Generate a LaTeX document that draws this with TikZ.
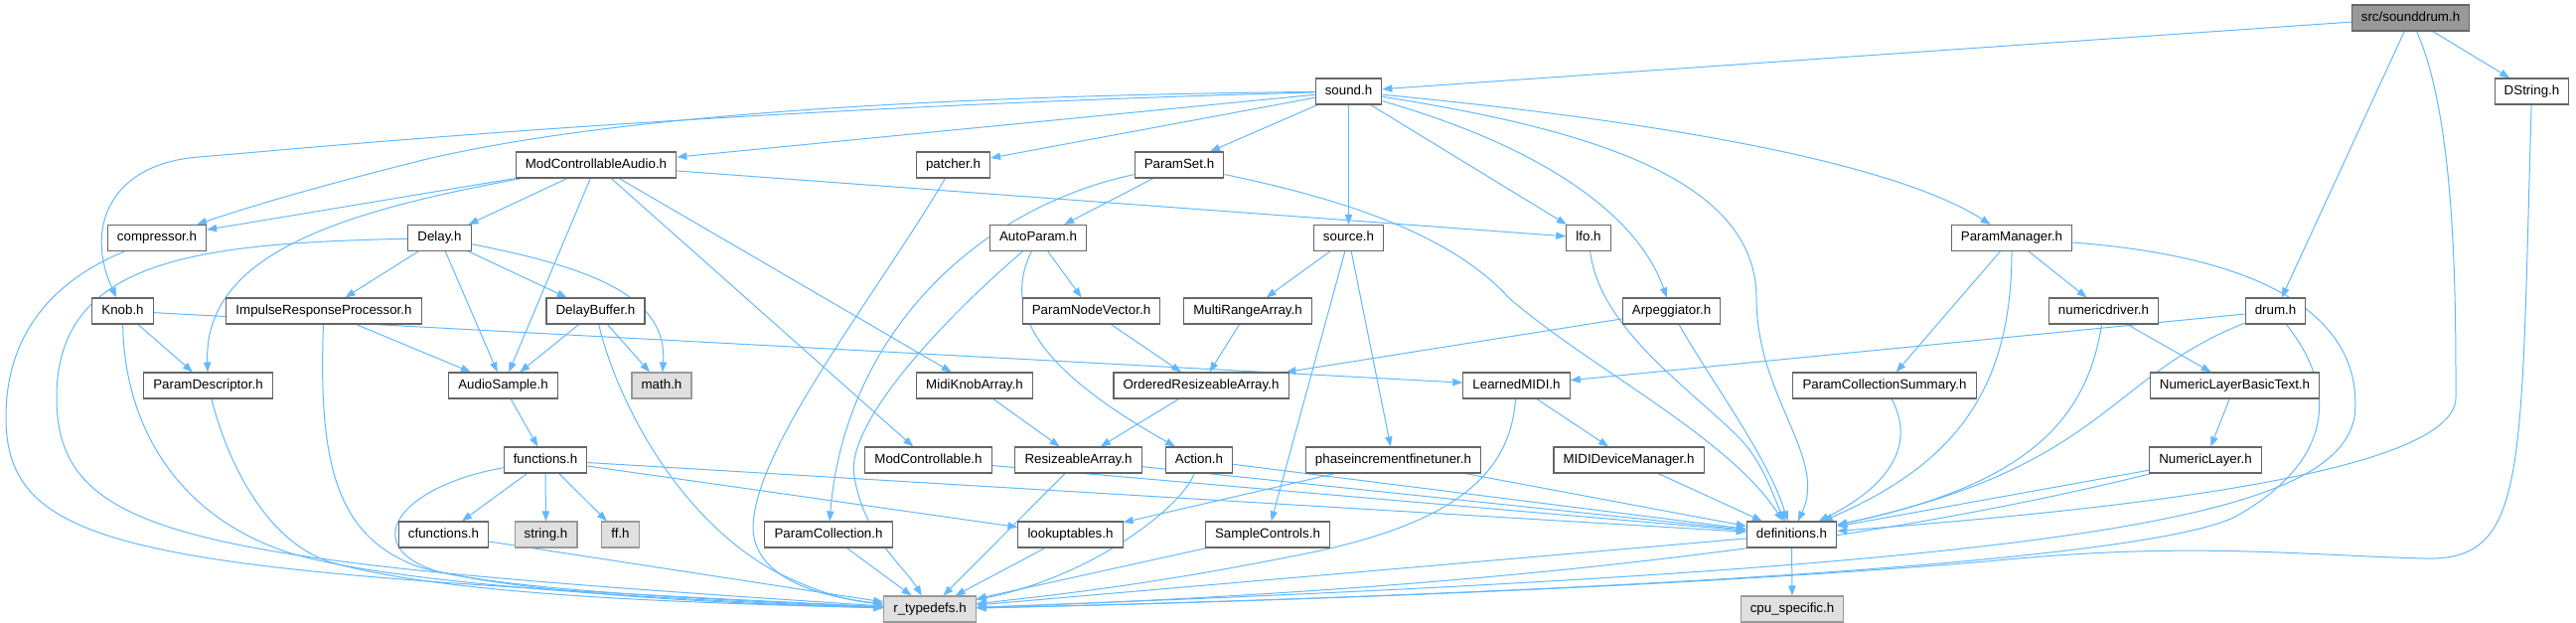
\documentclass[tikz,border=0pt]{standalone}
\usepackage{fontspec}
\setmainfont{Liberation Sans}
\usepackage{tikz}
\usetikzlibrary{arrows.meta, positioning, calc, backgrounds}
\definecolor{edgeblue}{HTML}{63B8FF}
\definecolor{boxline}{HTML}{666666}
\definecolor{extfill}{HTML}{E0E0E0}
\definecolor{extline}{HTML}{999999}
\definecolor{rootfill}{HTML}{999999}

\begin{document}
\begin{tikzpicture}[x=0.75pt,y=-0.75pt,
	box/.style={draw=boxline,fill=white,line width=0.8pt,rectangle,inner xsep=7.2pt,inner ysep=0pt,minimum height=19.5pt,text height=7.3pt,text depth=2.1pt,font=\fontsize{10}{12}\selectfont},
	extbox/.style={box,draw=extline,fill=extfill},
	rootbox/.style={box,fill=rootfill},
	dep/.style={draw=edgeblue,line width=0.75pt,-{Triangle[length=7.5pt,width=5.5pt]}}]
			\useasboundingbox (0,0) rectangle (2593,626);
			\node[rootbox] (sounddrum) at (2426.5,18) {src/sounddrum.h};
			\node[box] (sound) at (1357.5,92) {sound.h};
			\node[box] (DString) at (2548.5,92) {DString.h};
			\node[box] (ModControllableAudio) at (600,166) {ModControllableAudio.h};
			\node[box] (patcher) at (959.5,166) {patcher.h};
			\node[box] (ParamSet) at (1187,166) {ParamSet.h};
			\node[box] (compressor) at (158,239.5) {compressor.h};
			\node[box] (Delay) at (442.5,239.5) {Delay.h};
			\node[box] (AutoParam) at (1045,239.5) {AutoParam.h};
			\node[box] (source) at (1357.5,239.5) {source.h};
			\node[box] (lfo) at (1599,239.5) {lfo.h};
			\node[box] (ParamManager) at (2025,239.5) {ParamManager.h};
			\node[box] (Knob) at (123.5,313) {Knob.h};
			\node[box] (ImpulseResponseProcessor) at (326,313) {ImpulseResponseProcessor.h};
			\node[box] (DelayBuffer) at (599.5,313) {DelayBuffer.h};
			\node[box] (ParamNodeVector) at (1098.5,313) {ParamNodeVector.h};
			\node[box] (MultiRangeArray) at (1256,313) {MultiRangeArray.h};
			\node[box] (Arpeggiator) at (1682.5,313) {Arpeggiator.h};
			\node[box] (numericdriver) at (2117.5,313) {numericdriver.h};
			\node[box] (drum) at (2290.5,313) {drum.h};
			\node[box] (ParamDescriptor) at (209.5,388) {ParamDescriptor.h};
			\node[box] (AudioSample) at (506.5,388) {AudioSample.h};
			\node[extbox] (math) at (666,388) {math.h};
			\node[box] (MidiKnobArray) at (981,388) {MidiKnobArray.h};
			\node[box] (OrderedResizeableArray) at (1209,388) {OrderedResizeableArray.h};
			\node[box] (LearnedMIDI) at (1526.5,388) {LearnedMIDI.h};
			\node[box] (ParamCollectionSummary) at (1897,388) {ParamCollectionSummary.h};
			\node[box] (NumericLayerBasicText) at (2249.5,388) {NumericLayerBasicText.h};
			\node[box] (functions) at (549,463) {functions.h};
			\node[box] (ModControllable) at (934.5,463) {ModControllable.h};
			\node[box] (ResizeableArray) at (1085.5,463) {ResizeableArray.h};
			\node[box] (Action) at (1207,463) {Action.h};
			\node[box] (phaseincrementfinetuner) at (1402.5,463) {phaseincrementfinetuner.h};
			\node[box] (MIDIDeviceManager) at (1639.5,463) {MIDIDeviceManager.h};
			\node[box] (NumericLayer) at (2220,463) {NumericLayer.h};
			\node[box] (cfunctions) at (446.5,538) {cfunctions.h};
			\node[extbox] (string) at (549.5,538) {string.h};
			\node[extbox] (ff) at (624.5,538) {ff.h};
			\node[box] (ParamCollection) at (834,538) {ParamCollection.h};
			\node[box] (lookuptables) at (1077.5,538) {lookuptables.h};
			\node[box] (SampleControls) at (1276,538) {SampleControls.h};
			\node[box] (definitions) at (1803.5,538) {definitions.h};
			\node[extbox] (r_typedefs) at (936,613) {r\_typedefs.h};
			\node[extbox] (cpu_specific) at (1804,613) {cpu\_specific.h};
			\begin{scope}[on background layer]
			% includes of src/sounddrum.h
			\draw[dep] (sounddrum) -- (sound);
			\draw[dep] (sounddrum) -- (drum);
			\draw[dep] (sounddrum) -- (DString);
			\draw[dep] (sounddrum) .. controls (2472,120) and (2472,300) .. (2472,400) .. controls (2472,480) and (2100,515) .. (definitions);
			\draw[dep] (DString) .. controls (2537,480) and (2545,565) .. (2440,562) .. controls (2300,558) and (2200,545) .. (2000,565) .. controls (1700,590) and (1300,605) .. (r_typedefs);
			% sound.h
			\draw[dep] (sound) -- (ModControllableAudio);
			\draw[dep] (sound) .. controls (800,98) and (560,130) .. (430,160) .. controls (330,185) and (260,205) .. (compressor);
			\draw[dep] (sound) .. controls (700,110) and (300,150) .. (200,158) .. controls (110,165) and (85,230) .. (Knob);
			\draw[dep] (sound) -- (patcher);
			\draw[dep] (sound) -- (ParamSet);
			\draw[dep] (sound) -- (source);
			\draw[dep] (sound) -- (lfo);
			\draw[dep] (sound) .. controls (1560,150) and (1650,220) .. (Arpeggiator);
			\draw[dep] (sound) .. controls (1600,130) and (1768,180) .. (1768,300) .. controls (1768,400) and (1840,460) .. (definitions);
			\draw[dep] (sound) .. controls (1650,120) and (1900,160) .. (ParamManager);
			% ModControllableAudio.h
			\draw[dep] (ModControllableAudio) -- (compressor);
			\draw[dep] (ModControllableAudio) .. controls (330,215) and (205,260) .. (ParamDescriptor);
			\draw[dep] (ModControllableAudio) -- (Delay);
			\draw[dep] (ModControllableAudio) -- (AudioSample);
			\draw[dep] (ModControllableAudio) -- (ModControllable);
			\draw[dep] (ModControllableAudio) -- (MidiKnobArray);
			\draw[dep] (ModControllableAudio) -- (lfo);
			\draw[dep] (compressor) .. controls (60,280) and (6,330) .. (6,420) .. controls (6,560) and (150,575) .. (r_typedefs);
			% Delay.h
			\draw[dep] (Delay) .. controls (200,245) and (57,260) .. (57,400) .. controls (57,545) and (200,565) .. (r_typedefs);
			\draw[dep] (Delay) -- (ImpulseResponseProcessor);
			\draw[dep] (Delay) -- (AudioSample);
			\draw[dep] (Delay) -- (DelayBuffer);
			\draw[dep] (Delay) .. controls (600,270) and (672,300) .. (math);
			\draw[dep] (Knob) -- (ParamDescriptor);
			\draw[dep] (Knob) -- (LearnedMIDI);
			\draw[dep] (Knob) .. controls (125,430) and (180,520) .. (290,556) .. controls (400,590) and (700,605) .. (r_typedefs);
			\draw[dep] (ImpulseResponseProcessor) -- (AudioSample);
			\draw[dep] (ImpulseResponseProcessor) .. controls (320,470) and (340,540) .. (420,570) .. controls (500,595) and (750,605) .. (r_typedefs);
			\draw[dep] (DelayBuffer) -- (AudioSample);
			\draw[dep] (DelayBuffer) -- (math);
			\draw[dep] (DelayBuffer) .. controls (620,400) and (680,520) .. (780,575) .. controls (830,600) and (860,605) .. (r_typedefs);
			\draw[dep] (ParamDescriptor) .. controls (225,450) and (260,540) .. (330,565) .. controls (450,600) and (700,607) .. (r_typedefs);
			\draw[dep] (AudioSample) -- (functions);
			% functions.h
			\draw[dep] (functions) -- (cfunctions);
			\draw[dep] (functions) -- (string);
			\draw[dep] (functions) -- (ff);
			\draw[dep] (functions) -- (lookuptables);
			\draw[dep] (functions) -- (definitions);
			\draw[dep] (functions) .. controls (400,490) and (360,550) .. (440,575) .. controls (550,600) and (750,608) .. (r_typedefs);
			\draw[dep] (cfunctions) -- (r_typedefs);
			\draw[dep] (patcher) .. controls (880,300) and (760,450) .. (758,530) .. controls (758,580) and (820,600) .. (r_typedefs);
			% ParamSet.h
			\draw[dep] (ParamSet) -- (AutoParam);
			\draw[dep] (ParamSet) .. controls (980,210) and (850,340) .. (ParamCollection);
			\draw[dep] (ParamSet) .. controls (1350,200) and (1460,235) .. (1519,300) .. controls (1600,370) and (1740,440) .. (definitions);
			\draw[dep] (AutoParam) -- (ParamNodeVector);
			\draw[dep] (AutoParam) .. controls (1005,320) and (1060,380) .. (Action);
			\draw[dep] (AutoParam) .. controls (940,330) and (850,430) .. (860,480) .. controls (870,540) and (910,570) .. (r_typedefs);
			\draw[dep] (source) -- (MultiRangeArray);
			\draw[dep] (source) -- (SampleControls);
			\draw[dep] (source) -- (phaseincrementfinetuner);
			\draw[dep] (lfo) .. controls (1610,330) and (1700,390) .. (1750,440) .. controls (1775,465) and (1785,500) .. (definitions);
			\draw[dep] (Arpeggiator) -- (OrderedResizeableArray);
			\draw[dep] (Arpeggiator) .. controls (1720,380) and (1780,460) .. (definitions);
			% ParamManager.h
			\draw[dep] (ParamManager) -- (ParamCollectionSummary);
			\draw[dep] (ParamManager) -- (numericdriver);
			\draw[dep] (ParamManager) .. controls (2025,400) and (1960,470) .. (definitions);
			\draw[dep] (ParamManager) .. controls (2300,260) and (2380,330) .. (2370,420) .. controls (2350,520) and (2100,570) .. (r_typedefs);
			\draw[dep] (numericdriver) -- (NumericLayerBasicText);
			\draw[dep] (numericdriver) .. controls (2100,430) and (2030,490) .. (definitions);
			\draw[dep] (NumericLayerBasicText) -- (NumericLayer);
			\draw[dep] (NumericLayer) -- (definitions);
			\draw[dep] (NumericLayer) .. controls (1950,530) and (1600,590) .. (r_typedefs);
			\draw[dep] (drum) -- (LearnedMIDI);
			\draw[dep] (drum) .. controls (2120,380) and (2120,470) .. (definitions);
			\draw[dep] (drum) .. controls (2360,400) and (2340,470) .. (2250,520) .. controls (2150,570) and (1500,600) .. (r_typedefs);
			% lower rows
			\draw[dep] (ParamNodeVector) -- (OrderedResizeableArray);
			\draw[dep] (MultiRangeArray) -- (OrderedResizeableArray);
			\draw[dep] (OrderedResizeableArray) -- (ResizeableArray);
			\draw[dep] (MidiKnobArray) -- (ResizeableArray);
			\draw[dep] (ResizeableArray) -- (r_typedefs);
			\draw[dep] (ResizeableArray) -- (definitions);
			\draw[dep] (ModControllable) -- (definitions);
			\draw[dep] (Action) -- (definitions);
			\draw[dep] (Action) .. controls (1190,510) and (1100,580) .. (r_typedefs);
			\draw[dep] (phaseincrementfinetuner) -- (lookuptables);
			\draw[dep] (phaseincrementfinetuner) -- (definitions);
			\draw[dep] (LearnedMIDI) -- (MIDIDeviceManager);
			\draw[dep] (LearnedMIDI) .. controls (1520,480) and (1460,530) .. (1300,560) .. controls (1150,590) and (1050,600) .. (r_typedefs);
			\draw[dep] (MIDIDeviceManager) -- (definitions);
			\draw[dep] (ParamCollectionSummary) .. controls (1935,460) and (1880,500) .. (definitions);
			\draw[dep] (lookuptables) -- (r_typedefs);
			\draw[dep] (SampleControls) -- (r_typedefs);
			\draw[dep] (ParamCollection) -- (r_typedefs);
			\draw[dep] (definitions) -- (r_typedefs);
			\draw[dep] (definitions) -- (cpu_specific);
			\end{scope}
\end{tikzpicture}
\end{document}
